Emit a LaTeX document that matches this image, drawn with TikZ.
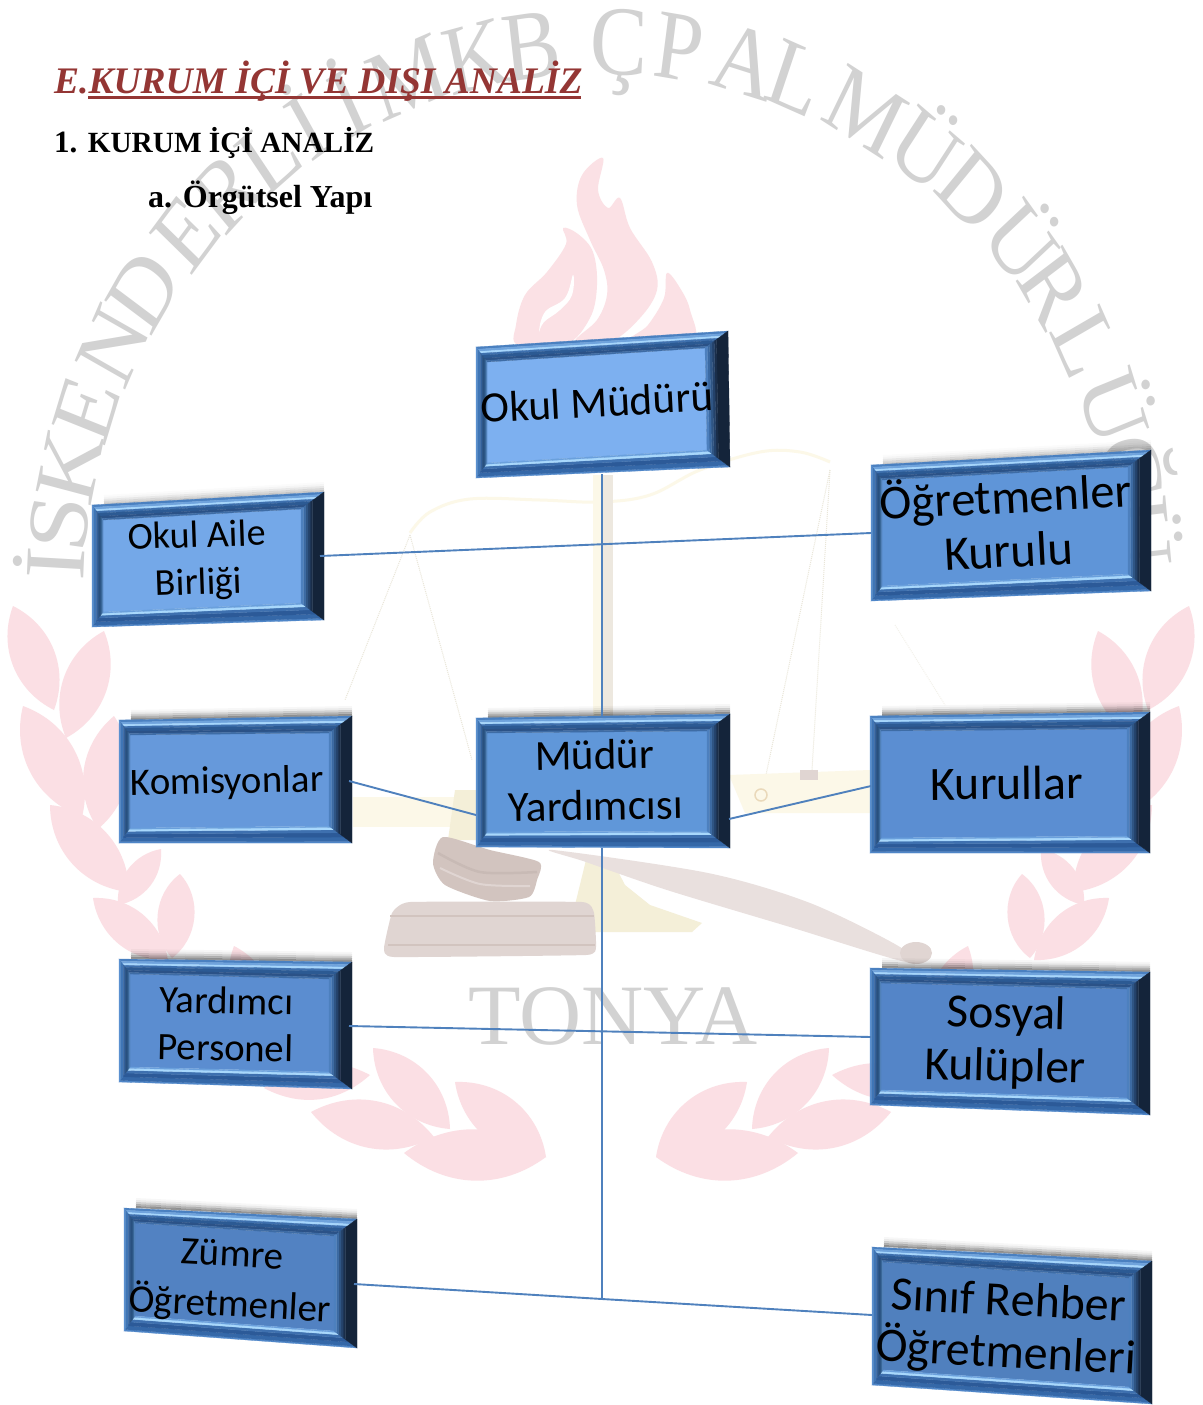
\documentclass[tikz,border=0pt]{standalone}
\usepackage{fontspec}
\setmainfont{Liberation Serif}
\newfontfamily\boxfont{Carlito}
\usetikzlibrary{calc}
\definecolor{leafc}{HTML}{FBDFE4}
\definecolor{flamec}{HTML}{FBE1E5}
\definecolor{wmgray}{HTML}{D2D2D2}
\definecolor{headred}{HTML}{943634}
\definecolor{linkc}{HTML}{4F81BD}
\definecolor{paleyel}{HTML}{FCF8E8}
\definecolor{polebr}{HTML}{EDE8DF}
\definecolor{gold}{HTML}{F4EFD8}
\definecolor{woodA}{HTML}{E0D5D2}
\definecolor{woodB}{HTML}{D2C4BF}
\definecolor{woodC}{HTML}{E9E0DE}
\definecolor{woodD}{HTML}{C8BAB5}
\tikzset{
  boxtext/.style={align=center,inner sep=0pt,text=black},
  link/.style={draw=linkc,line width=1.9pt},
  wmletter/.style={text=wmgray,inner sep=0pt,anchor=base,yscale=1.15,font=\fontsize{86}{86}\selectfont},
  chain/.style={draw=paleyel!85!gray,line width=1pt,densely dotted},
  head/.style={anchor=base west,inner sep=0pt}
}
\def\topstops{0/.15/4A80C0,.15/.3/6FA3DC,.3/.42/A6D6FC,.42/.55/3E70AE,.55/.75/2C5A93,.75/.9/2B5287,.9/1/3E6CA5}
\def\botstops{0/.1/4F86C8,.1/.35/3568A8,.35/.6/2C5A98,.6/.78/3E70AF,.78/.92/A8D8FC,.92/1/6AA0DC}
\def\leftstops{0/.15/5A90D0,.15/.4/3F75B5,.4/.6/33609A,.6/.8/28507F,.8/.9/33608F,.9/1/5080B8}
\def\rightstops{0/.5/14243A,.5/.6/1A2E4A,.6/.7/24426A,.7/.8/2F5584,.8/.9/3B6AA3,.9/1/4D80BE}
\newcommand\facestrips[5]{%
  \foreach \ta/\tb/\col in #5 {%
    \definecolor{tmpc}{HTML}{\col}%
    \filldraw[fill=tmpc,draw=tmpc,line width=.3pt]
      ($(#1)!\ta!(#4)$) -- ($(#2)!\ta!(#3)$) -- ($(#2)!\tb!(#3)$) -- ($(#1)!\tb!(#4)$) -- cycle;
  }%
}
% name, TL, TR, BR, BL, face colour, shadow strength
\newcommand\bevelbox[7]{%
  \coordinate (#1-tl) at (#2);
  \coordinate (#1-tr) at (#3);
  \coordinate (#1-br) at (#4);
  \coordinate (#1-bl) at (#5);
  \coordinate (#1-itl) at ($(#1-tl)+(11,15)$);
  \coordinate (#1-itr) at ($(#1-tr)+(-23,17)$);
  \coordinate (#1-ibr) at ($(#1-br)+(-23,-17)$);
  \coordinate (#1-ibl) at ($(#1-bl)+(11,-15)$);
  \foreach \k/\o in {1/.42,3/.3,5/.18,7/.08,9/.03} {
    \draw[black,line width=2pt,opacity=\o*#7] ($(#1-tl)+(12,-\k)$) -- ($(#1-tr)+(0,-\k)$);
  }
  \definecolor{facec}{HTML}{#6}
  \fill[facec] (#1-itl) -- (#1-itr) -- (#1-ibr) -- (#1-ibl) -- cycle;
  \facestrips{#1-tl}{#1-tr}{#1-itr}{#1-itl}{\topstops}
  \facestrips{#1-bl}{#1-br}{#1-ibr}{#1-ibl}{\botstops}
  \facestrips{#1-tl}{#1-bl}{#1-ibl}{#1-itl}{\leftstops}
  \facestrips{#1-tr}{#1-br}{#1-ibr}{#1-itr}{\rightstops}
}
\newcommand\leaf[4]{\fill[leafc] (#1) to[bend left=#3] (#2) to[bend left=#4] (#1);}
\newcommand\wreath{%
  \leaf{13,606}{54,710}{42}{42}
  \leaf{104,631}{66,738}{42}{42}
  \leaf{23,706}{82,817}{42}{42}
  \leaf{114,716}{98,829}{42}{42}
  \leaf{50,805}{129,892}{42}{42}
  \leaf{161,849}{118,905}{42}{42}
  \leaf{93,898}{168,960}{42}{42}
  \leaf{180,874}{172,958}{48}{48}
  \leaf{234,946}{270,1040}{42}{42}
  \leaf{264,1088}{370,1075}{35}{35}
  \leaf{311,1112}{434,1137}{40}{40}
  \leaf{373,1048}{450,1129}{42}{42}
  \leaf{404,1153}{546,1157}{38}{38}
  \leaf{455,1082}{546,1157}{42}{42}
}
\begin{document}
\begin{tikzpicture}[x=1pt,y=-1pt]
\useasboundingbox (0,0) rectangle (1202,1405);
\fill[white] (0,0) rectangle (1202,1405);
% ---------- watermark: wreath
\begin{scope}\wreath\end{scope}
\begin{scope}[shift={(1202,0)},xscale=-1]\wreath\end{scope}
% flame
\fill[flamec] plot[smooth cycle,tension=.6] coordinates {(603,158) (582,175) (577,205) (590,240) (604,270) (607,295) (597,320) (575,342) (610,342) (640,318) (657,290) (652,262) (630,228) (620,198) (608,208) (598,190)};
\fill[flamec] plot[smooth cycle,tension=.6] coordinates {(563,228) (566,244) (547,272) (525,295) (516,325) (518,345) (565,345) (590,318) (597,285) (593,252) (578,234)};
\fill[white] plot[smooth cycle,tension=.7] coordinates {(573,275) (565,298) (545,312) (539,332) (544,322) (560,310) (572,295)};
\fill[flamec] plot[smooth cycle,tension=.6] coordinates {(667,273) (664,298) (648,325) (630,342) (692,342) (690,310) (680,288)};
% scales
\draw[paleyel,line width=3pt] plot[smooth,tension=.6] coordinates {(410,533) (430,512) (470,499) (540,500) (600,502) (650,495) (700,470) (760,452) (800,452) (830,462)};
\draw[chain] (410,535) -- (345,700);
\draw[chain] (410,535) -- (472,760);
\draw[chain] (830,470) -- (766,775);
\draw[chain] (830,470) -- (812,770);
\draw[chain,opacity=.5] (895,625) -- (945,705);
\fill[paleyel] (593,475) rectangle (602,716);
\fill[polebr] (602,475) rectangle (613,716);
\fill[paleyel] (353,797) -- (476,797) -- (476,827) -- (353,827) -- cycle;
\fill[paleyel] (729,775) -- (870,770) -- (870,813) -- (745,813) -- cycle;
\fill[gold] (455,790) -- (476,790) -- (476,840) -- (448,840) -- cycle;
\draw[gold!80!brown,line width=1.5pt] (761,795) circle[radius=6pt];
\fill[woodA] (800,770) rectangle (818,780);
\fill[gold] (586,860) -- (612,860) -- (625,885) -- (650,905) -- (702,923) -- (692,932) -- (553,932) -- (575,905) -- cycle;
% gavel
\fill[woodC] plot[smooth cycle,tension=.5] coordinates {(553,850) (708,873) (810,903) (900,947) (906,962) (790,927) (667,890) (586,862)};
\fill[woodA] (916,953) circle[x radius=16pt,y radius=11pt];
\fill[woodB] plot[smooth cycle,tension=.4] coordinates {(443,837) (490,850) (539,862) (537,880) (529,897) (490,901) (445,885) (433,863)};
\draw[woodD,line width=2.5pt] plot[smooth,tension=.5] coordinates {(438,853) (480,872) (537,872)};
\draw[woodA,line width=2pt] plot[smooth,tension=.5] coordinates {(440,868) (480,884) (530,886)};
\fill[woodA] plot[smooth cycle,tension=.2] coordinates {(392,913) (410,902) (582,902) (594,913) (596,947) (586,955) (394,957) (384,948)};
\draw[woodB,line width=2pt] (390,916) -- (594,916);
\draw[woodB,line width=2pt] (388,945) -- (595,945);
% laurel text
\foreach \L/\t in {İ/177.2,S/173,K/167,E/160.8,N/153.6,D/146.9,E/139.5,R/133.5,L/127.5,İ/122.5,İ/117.5,M/110.8,K/103.3,B/97.3,Ç/88,P/81.6,A/74.6,L/68.9,M/60.8,Ü/53.3,D/46.7,Ü/39.3,R/33.4,L/26.8,Ü/19.5,Ğ/12.5,Ü/6} {
  \node[wmletter,rotate=\t-90] at ({600+516*cos(\t)},{590-516*sin(\t)}) {\L};
}
\node[text=wmgray,inner sep=0pt,anchor=base,font=\fontsize{86}{86}\selectfont] (tonya) at (613,1044) {TONYA};
% ---------- headings
\node[head,text=headred,font=\bfseries\itshape\fontsize{37.5}{37}\selectfont] (h1) at (54,93) {E.KURUM İÇİ VE DIŞI ANALİZ};
\coordinate (ul-a) at (88,97.5);
\coordinate (ul-b) at (581,97.5);
\draw[headred,line width=3.5pt] (ul-a) -- (ul-b);
\node[head,font=\bfseries\fontsize{31}{31}\selectfont] (h2) at (54,152) {1. {\fontsize{29.3}{29}\selectfont KURUM İÇİ ANALİZ}};
\node[head,font=\bfseries\fontsize{32}{32}\selectfont] (h3) at (148,207) {a. Örgütsel Yapı};
% ---------- boxes
\bevelbox{mudur}{476,347}{728,331}{730,467}{476,478}{7DB0F0}{0}
\bevelbox{aile}{92,505}{324,492}{324,620}{92,627}{74A8E8}{.5}
\bevelbox{ogr}{871,465}{1151,450}{1151,591}{871,601}{5F95D8}{.5}
\bevelbox{kom}{119,720}{352,716}{352,843}{119,843}{6699DB}{1}
\bevelbox{yrd}{476,718}{730,714}{730,848}{476,847}{6097D9}{1}
\bevelbox{kur}{870,716}{1150,712}{1150,853}{870,853}{5B8ED2}{1}
\bevelbox{per}{119,959}{352,962}{352,1089}{119,1082}{5B8DD0}{1}
\bevelbox{sos}{870,968}{1150,972}{1150,1115}{870,1105}{5485C8}{1}
\bevelbox{zum}{124,1208}{357,1219}{357,1348}{124,1331}{5282C2}{1}
\bevelbox{sin}{872,1247}{1152,1261}{1152,1404}{872,1385}{5080BE}{1}
% ---------- box texts
\node[boxtext,rotate=3,font=\boxfont\fontsize{43.2}{50}\selectfont] (t-mudur) at (597,402) {Okul Müdürü};
\node[boxtext,rotate=2,font=\boxfont\fontsize{38}{47}\selectfont] (t-aile) at (198,561) {Okul Aile\\Birliği};
\node[boxtext,rotate=3,font=\boxfont\fontsize{48.5}{54}\selectfont] (t-ogr) at (1007,521) {Öğretmenler\\Kurulu};
\node[boxtext,rotate=1,font=\boxfont\fontsize{38.8}{46}\selectfont] (t-kom) at (227,783) {Komisyonlar};
\node[boxtext,rotate=1,font=\boxfont\fontsize{43}{51}\selectfont] (t-yrd) at (595,780) {Müdür\\Yardımcısı};
\node[boxtext,rotate=.5,font=\boxfont\fontsize{48}{50}\selectfont] (t-kur) at (1007,783) {Kurullar};
\node[boxtext,rotate=-1,font=\boxfont\fontsize{38.8}{47}\selectfont] (t-per) at (226,1024) {Yardımcı\\Personel};
\node[boxtext,rotate=-1.5,font=\boxfont\fontsize{47.5}{53}\selectfont] (t-sos) at (1006,1042) {Sosyal\\Kulüpler};
\node[boxtext,rotate=-3,font=\boxfont\fontsize{39}{50}\selectfont] (t-zum) at (231,1282) {Zümre\\Öğretmenler};
\node[boxtext,rotate=-3,font=\boxfont\fontsize{48}{52}\selectfont] (t-sin) at (1007,1329) {Sınıf Rehber\\Öğretmenleri};
% ---------- connectors
\coordinate (c-mudur-b) at (602,474);
\coordinate (c-yrd-t) at (602,716);
\coordinate (c-aile) at (320,556);
\coordinate (c-ogr) at (871,533);
\coordinate (c-kom) at (349,781);
\coordinate (c-yrd-l) at (476,815);
\coordinate (c-yrd-r) at (729,819);
\coordinate (c-kur) at (871,786);
\coordinate (c-per) at (349,1026);
\coordinate (c-sos) at (871,1037);
\coordinate (c-yrd-b) at (602,848);
\coordinate (c-join) at (602,1299);
\coordinate (c-zum) at (354,1284);
\coordinate (c-sin) at (872,1315);
\draw[link] (c-mudur-b) -- (c-yrd-t);
\draw[link] (c-aile) -- (c-ogr);
\draw[link] (c-kom) -- (c-yrd-l);
\draw[link] (c-yrd-r) -- (c-kur);
\draw[link] (c-per) -- (c-sos);
\draw[link] (c-yrd-b) -- (c-join);
\draw[link] (c-zum) -- (c-join) -- (c-sin);
\end{tikzpicture}
\end{document}
